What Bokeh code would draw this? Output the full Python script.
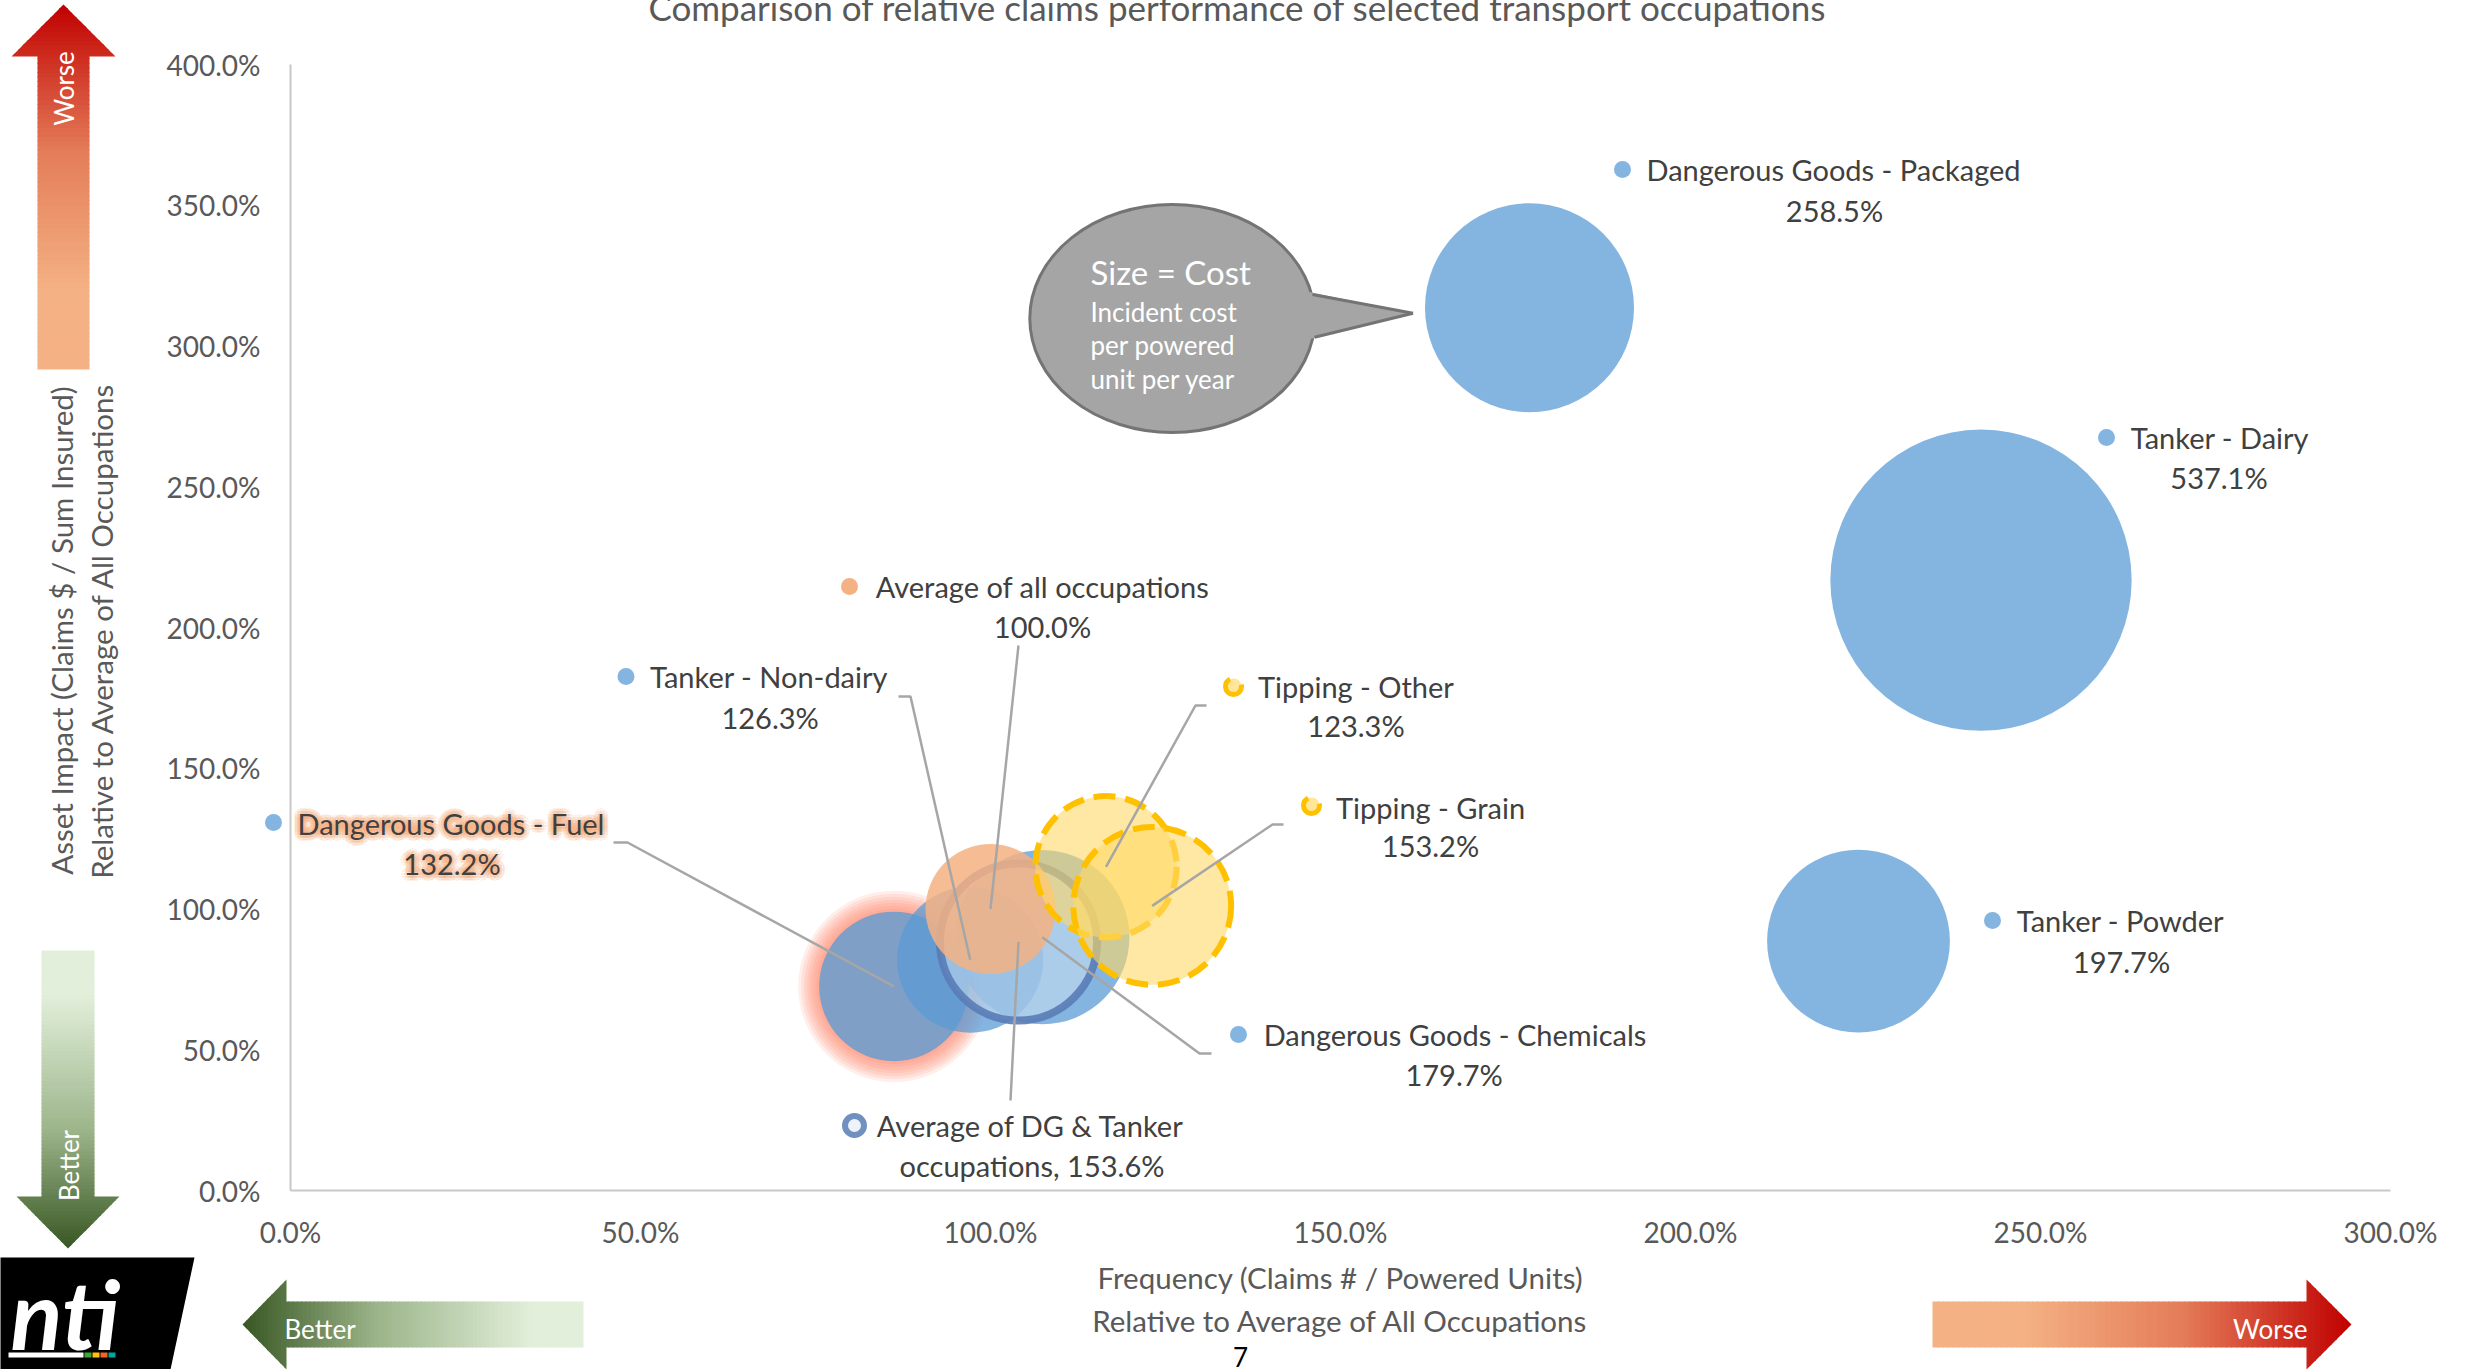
import math
from bokeh.plotting import figure
from bokeh.models import FixedTicker, PrintfTickFormatter, Range1d
from bokeh.core.properties import value
from bokeh.embed import file_html
from bokeh.resources import INLINE

# ---------------- data ----------------
chart_title = "Comparison of relative claims performance of selected transport occupations"
occupations = ["Dangerous Goods - Packaged", "Tanker - Dairy", "Tanker - Powder",
               "Dangerous Goods - Chemicals", "Dangerous Goods - Fuel", "Tanker - Non-dairy",
               "Average of all occupations", "Tipping - Other", "Tipping - Grain",
               "Average of DG & Tanker occupations"]
frequency = [177.0, 241.5, 224.0, 107.4, 86.2, 97.1, 100.0, 116.5, 123.1, 104.0]
asset_impact = [313.6, 216.8, 88.6, 90.0, 72.5, 82.0, 100.0, 115.0, 101.1, 88.3]
cost = [258.5, 537.1, 197.7, 179.7, 132.2, 126.3, 100.0, 123.3, 153.2, 153.6]
x_ticks = [0, 50, 100, 150, 200, 250, 300]
y_ticks = [0, 50, 100, 150, 200, 250, 300, 350, 400]
x_title = ["Frequency (Claims # / Powered Units)", "Relative to Average of All Occupations"]
y_title = ["Asset Impact (Claims $ / Sum Insured)", "Relative to Average of All Occupations"]
callout_lines = ["Size = Cost", "Incident cost", "per powered", "unit per year"]
page_number = "7"

# ---------------- layout (reference pixel geometry) ----------------
W, H = 2483, 1369
X0, PXX = 290.0, 7.0
Y0, PXY = 1190.0, 2.815
FONT = "Lato"


def X(px):
    return (px - X0) / PXX


def Y(py):
    return (Y0 - py) / PXY


p = figure(width=W, height=H, x_range=Range1d(0, 300), y_range=Range1d(0, 400),
           output_backend="svg", toolbar_location=None,
           min_border_left=int(X0), min_border_right=int(W - (X0 + 300 * PXX)),
           min_border_top=int(round(Y0 - 400 * PXY)), min_border_bottom=int(H - Y0))
p.grid.visible = False
p.outline_line_color = None
p.background_fill_color = "white"
p.border_fill_color = "white"

for ax, ticks, so in ((p.xaxis[0], x_ticks, 24), (p.yaxis[0], y_ticks, 30)):
    ax.ticker = FixedTicker(ticks=ticks)
    ax.formatter = PrintfTickFormatter(format="%.1f%%")
    ax.axis_line_color = "#C8C8C8"
    ax.axis_line_width = 2
    ax.major_tick_line_color = None
    ax.minor_tick_line_color = None
    ax.major_tick_out = 0
    ax.major_tick_in = 0
    ax.minor_tick_out = 0
    ax.major_label_text_font = FONT
    ax.major_label_text_font_size = "28px"
    ax.major_label_text_color = "#595959"
    ax.major_label_standoff = so


# ---------------- helpers ----------------
def hex2rgb(h):
    h = h.lstrip("#")
    return [int(h[i:i + 2], 16) for i in (0, 2, 4)]


def interp(stops, f):
    for (f0, c0), (f1, c1) in zip(stops[:-1], stops[1:]):
        if f <= f1:
            t = 0 if f1 == f0 else (f - f0) / (f1 - f0)
            a, b = hex2rgb(c0), hex2rgb(c1)
            return "#%02x%02x%02x" % tuple(int(round(a[i] + (b[i] - a[i]) * t)) for i in range(3))
    return stops[-1][1]


# zero-area anchor polygon inside the frame keeps out-of-frame shapes from being culled
ANCHOR_X, ANCHOR_Y = [150.0, 150.0, 150.0], [200.0, 200.0, 200.0]


def polys(list_of_pts, colors, alpha=1.0):
    xs = [[[[X(a) for a, b in pts]], [ANCHOR_X]] for pts in list_of_pts]
    ys = [[[[Y(b) for a, b in pts]], [ANCHOR_Y]] for pts in list_of_pts]
    p.multi_polygons(xs=xs, ys=ys, fill_color=colors, fill_alpha=alpha, line_color=None,
                     level="overlay")


def grad_arrow(tail, tip, shaft_hw, head_hw, head_len, stops, n=80):
    tx, ty = tail
    L = math.hypot(tip[0] - tx, tip[1] - ty)
    ux, uy = (tip[0] - tx) / L, (tip[1] - ty) / L
    vx, vy = -uy, ux
    hb = L - head_len
    ts = sorted(set([L * i / n for i in range(n + 1)] + [hb]))

    def P(t, w):
        return (tx + ux * t + vx * w, ty + uy * t + vy * w)

    shapes, cols = [], []
    for a, b in zip(ts[:-1], ts[1:]):
        b2 = min(b + 1.0, L)
        if b <= hb + 1e-9:
            w0 = w1 = shaft_hw
        else:
            w0 = head_hw * (L - a) / head_len
            w1 = head_hw * (L - b2) / head_len
        cols.append(interp(stops, (a + b) / 2 / L))
        shapes.append([P(a, w0), P(b2, w1), P(b2, -w1), P(a, -w0)])
    polys(shapes, cols)


def label(x, y, text, size, color="#595959", align="center", baseline="middle", angle=0.0,
          style="normal"):
    p.text(x=[X(x)], y=[Y(y)], text=[text], text_font=value(FONT), text_font_size=size,
           text_color=color, text_align=align, text_baseline=baseline, angle=angle,
           text_font_style=style, level="overlay")


# ---------------- side arrows ----------------
WORSE = [(0.0, "#F4B183"), (0.22, "#F4B183"), (0.6, "#E47C58"), (1.0, "#C00000")]
BETTER = [(0.0, "#E2EFDA"), (0.15, "#E2EFDA"), (0.6, "#9DB58B"), (1.0, "#385723")]
grad_arrow((63, 369), (63, 4), 26, 52, 52, WORSE)
grad_arrow((67.5, 950), (67.5, 1248), 26.5, 51.5, 52, BETTER)
grad_arrow((583, 1324), (242, 1324), 23, 45, 44, BETTER)
grad_arrow((1932, 1324), (2351, 1324), 23, 45, 45, WORSE)
label(63, 88, "Worse", "26px", color="white", angle=math.pi / 2)
label(68, 1165, "Better", "26px", color="white", angle=math.pi / 2)
label(284, 1328, "Better", "26px", color="white", align="left")
label(2307, 1328, "Worse", "26px", color="white", align="right")

# ---------------- logo ----------------
polys([[(0, 1257), (194, 1257), (170, 1369), (0, 1369)]], ["#000000"])
label(10, 1312, "nti", "96px", color="white", align="left", style="bold italic")
bars = [[(8, 1352), (83, 1352), (83, 1357), (8, 1357)]]
bar_cols = ["#FFFFFF"]
for i, c in enumerate(["#3AAA35", "#FFC20E", "#F26522", "#00A99D"]):
    bars.append([(84 + 8 * i, 1352), (91 + 8 * i, 1352), (91 + 8 * i, 1357), (84 + 8 * i, 1357)])
    bar_cols.append(c)
polys(bars, bar_cols)

# ---------------- titles ----------------
label(1237, 6, chart_title, "35px")
label(1340, 1277, x_title[0], "29.5px")
label(1340, 1320, x_title[1], "29.5px")
label(61, 630, y_title[0], "29.5px", angle=math.pi / 2)
label(101, 630, y_title[1], "29.5px", angle=math.pi / 2)
label(1240, 1356, page_number, "26px", color="#000000")

# ---------------- bubbles ----------------
BLUE = dict(fill_color="#5B9BD5", fill_alpha=0.75, line_color=None)
STYLE = {
    "Dangerous Goods - Fuel": dict(fill_color="#7F9FC6", fill_alpha=1.0, line_color=None),
    "Average of DG & Tanker occupations": dict(fill_color="#DEEBF7", fill_alpha=0.45, line_color="#5A7CB6",
                                               line_width=8, line_alpha=0.9),
    "Average of all occupations": dict(fill_color="#F4B183", fill_alpha=0.85, line_color=None),
    "Tipping - Other": dict(fill_color="#FFD966", fill_alpha=0.6, line_color="#FFC000", line_width=6,
                            line_dash="22 10"),
    "Tipping - Grain": dict(fill_color="#FFD966", fill_alpha=0.6, line_color="#FFC000", line_width=6,
                            line_dash="22 10"),
}
SIZE_K = 13.0
order = ["Dangerous Goods - Fuel", "Tanker - Non-dairy", "Dangerous Goods - Chemicals",
         "Average of DG & Tanker occupations", "Average of all occupations", "Tipping - Other",
         "Tipping - Grain", "Dangerous Goods - Packaged", "Tanker - Dairy", "Tanker - Powder"]

for name in order:
    i = occupations.index(name)
    d = SIZE_K * math.sqrt(cost[i])
    st = STYLE.get(name, BLUE)
    if name == "Dangerous Goods - Fuel":
        for g in (3, 6, 9, 12, 15, 18, 21):
            p.scatter(x=[frequency[i]], y=[asset_impact[i]], size=d + 2 * g, fill_color="#FF7F5F",
                      fill_alpha=0.13, line_color=None)
    if st.get("line_width"):
        d = d - st["line_width"] / 2
    p.scatter(x=[frequency[i]], y=[asset_impact[i]], size=d, marker="circle", **st)

# ---------------- callout ----------------
p.ellipse(x=[X(1171.8)], y=[Y(318)], width=285 / PXX, height=228 / PXY,
          fill_color="#A5A5A5", line_color="#747474", line_width=3)
tail = [(1296, 289), (1412.5, 312.7), (1296, 342)]
p.patch([X(a) for a, b in tail], [Y(b) for a, b in tail], fill_color="#A5A5A5", line_color=None)
for a0, b0 in ((1312, 294), (1314, 336.7)):
    p.line([X(a0), X(1412.5)], [Y(b0), Y(312.7)], line_color="#747474", line_width=3)
callout_pos = [(271, "33px"), (311, "26px"), (344, "26px"), (378, "26px")]
for txt, (cy, fs) in zip(callout_lines, callout_pos):
    p.text(x=[X(1090)], y=[Y(cy)], text=[txt], text_font=value(FONT), text_font_size=fs,
           text_color="white", text_align="left", text_baseline="middle")

# ---------------- data labels ----------------
# name: (dot_x, dot_y, line1_center_x, line1_y, line2_center_x, line2_y, leader points)
LAB = {
    "Dangerous Goods - Packaged": (1622, 169, 1833, 169, 1834, 210, None),
    "Tanker - Dairy": (2106, 437, 2219.5, 437, 2218.5, 477, None),
    "Tanker - Powder": (1992, 920, 2120, 920, 2121, 961, None),
    "Dangerous Goods - Chemicals": (1238, 1034, 1454.5, 1034, 1453.6, 1074, [(1211, 1053), (1199, 1053)]),
    "Dangerous Goods - Fuel": (273, 822, 450.5, 823, 451.5, 863, [(613, 842), (627, 842)]),
    "Tanker - Non-dairy": (625.5, 676, 768.6, 676, 769.6, 717, [(898, 696), (910, 696)]),
    "Average of all occupations": (849, 586, 1042, 586, 1042, 626, [(1018, 645)]),
    "Tipping - Other": (1233, 686, 1355.4, 686, 1355.5, 725, [(1206, 705), (1195, 705)]),
    "Tipping - Grain": (1311, 805, 1430, 806.7, 1430, 845, [(1283, 824), (1272, 824)]),
    "Average of DG & Tanker occupations": (854, 1125, 1030, 1125, 1031.5, 1165, [(1010, 1100)]),
}
LEADER = dict(line_color="#A6A6A6", line_width=2.5)
KEY = {
    "Average of all occupations": dict(fill_color="#F4B183", fill_alpha=1.0, line_color=None, size=17),
    "Tipping - Other": dict(fill_color="#FFE699", line_color="#FFC000", line_width=5, line_dash="34 14", size=16),
    "Tipping - Grain": dict(fill_color="#FFE699", line_color="#FFC000", line_width=5, line_dash="34 14", size=16),
    "Average of DG & Tanker occupations": dict(fill_color="#EEF3FA", line_color="#7090C0", line_width=6, size=19),
}
KEY_BLUE = dict(fill_color="#5B9BD5", fill_alpha=0.75, line_color=None, size=17)
LFS = "29px"
TEXTSTYLE = dict(text_font=value(FONT), text_font_size=LFS, text_color="#404040",
                 text_align="center", text_baseline="middle")

for i, name in enumerate(occupations):
    dx, dy, c1, y1, c2, y2, lead = LAB[name]
    if lead:
        xs = [X(a) for a, b in lead] + [frequency[i]]
        ys = [Y(b) for a, b in lead] + [asset_impact[i]]
        p.line(xs, ys, **LEADER)
    val = "%.1f%%" % cost[i]
    if name == "Average of DG & Tanker occupations":
        t1, t2 = "Average of DG & Tanker", "occupations, " + val
    else:
        t1, t2 = name, val
    if name == "Dangerous Goods - Fuel":
        for r in (3, 6):
            for k in range(12):
                ang = 2 * math.pi * k / 12
                for tx_, ty_, tt in ((c1, y1, t1), (c2, y2, t2)):
                    p.text(x=[X(tx_)], y=[Y(ty_)], text=[tt], x_offset=r * math.cos(ang),
                           y_offset=r * math.sin(ang), text_font=value(FONT), text_font_size=LFS,
                           text_color="#F7A26B", text_alpha=0.16, text_align="center",
                           text_baseline="middle", level="overlay")
    p.scatter(x=[X(dx)], y=[Y(dy)], marker="circle", level="overlay", **KEY.get(name, KEY_BLUE))
    p.text(x=[X(c1)], y=[Y(y1)], text=[t1], level="overlay", **TEXTSTYLE)
    p.text(x=[X(c2)], y=[Y(y2)], text=[t2], level="overlay", **TEXTSTYLE)

open("out.html", "w").write(file_html(p, INLINE))
